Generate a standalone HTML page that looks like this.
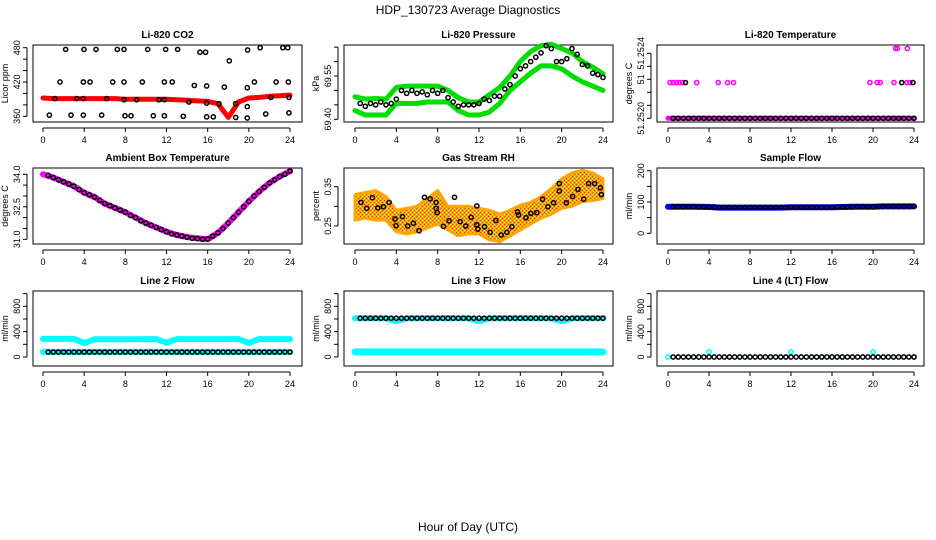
<!DOCTYPE html>
<html><head><meta charset="utf-8">
<style>
body{margin:0;background:#fff;}
svg{display:block;font-family:"Liberation Sans",Arial,sans-serif;}
</style></head>
<body>
<svg id="chart" width="936" height="540" viewBox="0 0 936 540" xmlns="http://www.w3.org/2000/svg">
<defs>
<pattern id="rhPat" width="4" height="4" patternUnits="userSpaceOnUse">
<rect width="4" height="4" fill="#ffa500"/>
<rect x="0" y="0" width="1" height="1" fill="#ff2000"/>
<rect x="2" y="2" width="1" height="1" fill="#ff2000"/>
<rect x="2" y="0" width="1" height="1" fill="#ffff00"/>
<rect x="0" y="2" width="1" height="1" fill="#ffff00"/>
</pattern>
</defs>
<text x="468" y="14" text-anchor="middle" font-size="12">HDP_130723  Average Diagnostics</text>
<text x="468" y="531" text-anchor="middle" font-size="12">Hour of Day (UTC)</text>
</svg>
<script>
// ---------- data ----------
const H25 = [0,1,2,3,4,5,6,7,8,9,10,11,12,13,14,15,16,17,18,19,20,21,22,23,24];
const HH = [0.5,1,1.5,2,2.5,3,3.5,4,4.5,5,5.5,6,6.5,7,7.5,8,8.5,9,9.5,10,10.5,11,11.5,12,12.5,13,13.5,14,14.5,15,15.5,16,16.5,17,17.5,18,18.5,19,19.5,20,20.5,21,21.5,22,22.5,23,23.5,24];
const xTickLabels = [0,4,8,12,16,20,24];

const co2Band = [392,391,391,391,391,391,391,391,390,390,390,390,390,389,388,387,386,382,358,385,392,393,395,396,397];
const co2Hours = [2.2,3.98,5.15,7.22,7.87,10.17,11.92,13.08,15.25,15.8,18.1,19.88,21.1,23.3,23.78,
  1.65,3.92,4.57,6.77,7.87,9.65,11.79,12.56,14.7,15.9,17.62,19.85,20.54,22.65,23.84,
  1.15,3.27,3.92,6.18,7.87,9.1,11.27,11.79,14.18,15.9,17.1,18.72,19.85,22.13,23.9,
  0.62,2.72,3.92,5.7,7.97,8.55,10.72,11.79,13.63,15.9,16.55,18.72,19.85,21.64,23.9];
const co2Vals = [477,477,477,477,477,477,477,477,472,472,457,476,480,480,480,
  420,420,420,420,420,420,420,420,414,413,411,410,420,420,420,
  391,391,391,391,389,389,389,389,385,383,382,382,377,393,393,
  362,362,362,362,361,361,361,361,360,359,359,358,357,364,366];

const pressUpper = [69.478,69.47,69.472,69.47,69.51,69.515,69.515,69.515,69.515,69.5,69.475,69.46,69.46,69.485,69.51,69.55,69.6,69.635,69.655,69.66,69.645,69.63,69.6,69.58,69.558];
const pressLower = [69.43,69.415,69.415,69.415,69.455,69.455,69.455,69.46,69.46,69.46,69.43,69.415,69.415,69.425,69.455,69.5,69.53,69.56,69.585,69.585,69.575,69.55,69.53,69.515,69.5];
const pressPts = [69.455,69.445,69.455,69.45,69.46,69.45,69.455,69.47,69.5,69.49,69.5,69.49,69.495,69.485,69.5,69.49,69.5,69.475,69.46,69.445,69.45,69.45,69.45,69.455,69.47,69.465,69.48,69.48,69.505,69.52,69.55,69.575,69.585,69.6,69.615,69.63,69.655,69.645,69.6,69.6,69.61,69.645,69.625,69.59,69.585,69.56,69.555,69.545];

const tempMagH = [0.2,0.5,0.8,1.1,1.4,2.8,4.9,5.8,6.4,19.7,20.4,20.7,22.05,23.3,23.6,22.2,22.4,23.35];
const tempMagV = [51.25222,51.25222,51.25222,51.25222,51.25222,51.25222,51.25222,51.25222,51.25222,51.25222,51.25222,51.25222,51.25222,51.25222,51.25222,51.25243,51.25243,51.25243];
const tempBlkMidH = [1.7,22.8,23.9];
const tempBlkMidV = [51.25222,51.25222,51.25222];
const tempBase = [51.2520,51.2520,51.2520,51.2520,51.2520,51.2520,51.2520,51.2520,51.2520,51.2520,51.2520,51.2520,51.2520,51.2520,51.2520,51.2520,51.2520,51.2520,51.2520,51.2520,51.2520,51.2520,51.2520,51.2520,51.2520];

const ambBand = [34.0,33.85,33.65,33.45,33.15,32.95,32.65,32.45,32.25,32.0,31.75,31.55,31.35,31.2,31.1,31.05,31.0,31.3,31.75,32.25,32.75,33.2,33.6,33.9,34.15];
const ambPts = [33.95,33.85,33.75,33.65,33.55,33.45,33.3,33.15,33.05,32.95,32.8,32.65,32.55,32.45,32.35,32.25,32.1,32.0,31.85,31.75,31.65,31.55,31.45,31.35,31.25,31.2,31.15,31.1,31.05,31.03,31.0,31.02,31.15,31.3,31.5,31.75,32.0,32.25,32.5,32.75,33.0,33.2,33.4,33.6,33.75,33.9,34.0,34.15];

const rhUpper = [0.33,0.335,0.34,0.325,0.29,0.295,0.3,0.32,0.34,0.3,0.3,0.3,0.295,0.29,0.28,0.29,0.303,0.31,0.325,0.345,0.37,0.385,0.392,0.385,0.37];
const rhLower = [0.265,0.27,0.265,0.265,0.235,0.23,0.235,0.245,0.255,0.24,0.225,0.23,0.23,0.215,0.21,0.225,0.24,0.255,0.27,0.28,0.295,0.3,0.312,0.315,0.32];
const rhPtH = [0.58,1.13,1.68,2.2,2.75,3.3,3.88,3.97,4.59,5.1,5.65,6.2,6.72,7.27,7.85,7.85,7.95,8.56,9.11,9.63,10.17,10.72,11.24,11.79,11.79,11.89,12.53,13.08,13.63,14.15,14.7,15.18,15.73,15.83,16.54,17.02,17.6,18.15,18.67,19.22,19.77,19.77,20.45,21.06,21.58,22.13,22.61,23.19,23.74,23.84];
const rhPtV = [0.31,0.295,0.322,0.296,0.299,0.31,0.268,0.251,0.274,0.25,0.257,0.238,0.323,0.319,0.31,0.295,0.284,0.249,0.263,0.323,0.261,0.25,0.272,0.301,0.253,0.242,0.248,0.234,0.264,0.227,0.234,0.248,0.286,0.278,0.271,0.282,0.284,0.318,0.299,0.309,0.339,0.358,0.309,0.325,0.343,0.318,0.358,0.358,0.347,0.33];

const sampleBand = [85,85,85,85,84,82,82,82,82,82,82,82,83,83,83,83,83,84,85,85,85,86,86,86,86];
const samplePts = [85,85,85,85,85,84,84,84,84,83,83,83,83,83,83,83,83,83,83,83,83,83,83,83,83,83,83,83,83,83,83,83,84,84,84,84,85,85,85,85,86,86,86,86,86,86,86,86];

const line2Upper = [285,285,285,285,220,280,280,280,280,280,282,282,225,282,282,282,282,282,282,282,222,282,282,282,282];
const line2Lower = [80,80,80,80,80,80,80,80,80,80,80,80,80,80,80,80,80,80,80,80,80,80,80,80,80];
const line2Pts = [78,78,78,78,78,78,78,78,78,78,78,78,78,78,78,78,78,78,78,78,78,78,78,78,78,78,78,78,78,78,78,78,78,78,78,78,78,78,78,78,78,78,78,78,78,78,78,78];

const line3Upper = [612,612,612,612,565,612,612,612,612,612,612,612,565,612,612,612,612,612,612,612,565,612,612,612,612];
const line3Lower = [80,80,80,80,80,80,80,80,80,80,80,80,80,80,80,80,80,80,80,80,80,80,80,80,80];
const line3Pts = [612,612,612,612,612,612,612,612,612,612,612,612,612,612,612,612,612,612,612,612,612,612,612,612,612,612,612,612,612,612,612,612,612,612,612,612,612,612,612,612,612,612,612,612,612,612,612,612];

const line4Cyan = [0,0,0,0,80,0,0,0,0,0,0,0,80,0,0,0,0,0,0,0,80,0,0,0,0];
const line4Pts = [0,0,0,0,0,0,0,0,0,0,0,0,0,0,0,0,0,0,0,0,0,0,0,0,0,0,0,0,0,0,0,0,0,0,0,0,0,0,0,0,0,0,0,0,0,0,0,0];

// ---------- layout ----------
const NS = 'http://www.w3.org/2000/svg';
const svg = document.getElementById('chart');
const cols = [{l:33,r:302,x0:43,x24:290},{l:344,r:613,x0:355,x24:603},{l:657,r:924,x0:668,x24:914}];
const rows = [{t:45,b:122},{t:168,b:244},{t:291,b:366}];

function mk(tag, attrs, name, parent){
  const el = document.createElementNS(NS, tag);
  for (const k in attrs) el.setAttribute(k, attrs[k]);
  
  
  (parent||svg).appendChild(el);
  return el;
}

function panel(p){
  const c = cols[p.col], r = rows[p.row];
  const g = mk('g', {}, p.name + '-panel');
  const xs = h => c.x0 + h*(c.x24-c.x0)/24;
  const ys = v => p.yA + (v - p.vA)*(p.yB - p.yA)/(p.vB - p.vA);
  mk('text', {x:(c.l+c.r)/2, y:r.t-7, 'text-anchor':'middle', 'font-size':10, 'font-weight':'bold'}, p.name + '-title', g).textContent = p.title;
  mk('rect', {x:c.l, y:r.t, width:c.r-c.l, height:r.b-r.t, fill:'none', stroke:'#000', 'stroke-width':1}, p.name + '-plot-box', g);
  const xa = mk('g', {}, p.name + '-x-axis', g);
  mk('line', {x1:xs(0), x2:xs(24), y1:r.b+6, y2:r.b+6, stroke:'#000'}, p.name + '-x-axis-line', xa);
  xTickLabels.forEach(t => {
    mk('line', {x1:xs(t), x2:xs(t), y1:r.b+6, y2:r.b+10, stroke:'#000'}, p.name + '-x-tick', xa);
    mk('text', {x:xs(t), y:r.b+21, 'text-anchor':'middle', 'font-size':9}, p.name + '-x-tick-label', xa).textContent = t;
  });
  const ya = mk('g', {}, p.name + '-y-axis', g);
  const y1 = ys(p.ticks[0]), y2 = ys(p.ticks[p.ticks.length-1]);
  mk('line', {x1:c.l-6, x2:c.l-6, y1:y1, y2:y2, stroke:'#000'}, p.name + '-y-axis-line', ya);
  p.ticks.forEach((t,i) => {
    const y = ys(t);
    mk('line', {x1:c.l-10, x2:c.l-6, y1:y, y2:y, stroke:'#000'}, p.name + '-y-tick', ya);
    if (p.labels[i] !== '') {
      const tx = mk('text', {x:c.l-13, y:y, 'text-anchor':'middle', 'font-size':9, transform:'rotate(-90 '+(c.l-13)+' '+y+')'}, p.name + '-y-tick-label', ya);
      tx.textContent = p.labels[i];
    }
  });
  const ym = (r.t + r.b)/2;
  mk('text', {x:c.l-25, y:ym, 'text-anchor':'middle', 'font-size':9, transform:'rotate(-90 '+(c.l-25)+' '+ym+')'}, p.name + '-y-axis-title', g).textContent = p.ylab;
  const clip = mk('g', {}, p.name + '-series', g);
  return {xs, ys, g: clip};
}

function band(P, hours, vals, color, w, name){
  const pts = hours.map((h,i) => P.xs(h).toFixed(1)+','+P.ys(vals[i]).toFixed(1)).join(' ');
  mk('polyline', {points:pts, fill:'none', stroke:color, 'stroke-width':w, 'stroke-linecap':'round', 'stroke-linejoin':'round'}, name, P.g);
}
function points(P, hours, vals, color, name, rad, sw){
  hours.forEach((h,i) => {
    mk('circle', {cx:P.xs(h), cy:P.ys(vals[i]), r:rad||2.1, fill:'none', stroke:color, 'stroke-width':sw||1.5}, name, P.g);
  });
}
function area(P, hours, up, lo, fill, name){
  const a = hours.map((h,i) => P.xs(h).toFixed(1)+','+P.ys(up[i]).toFixed(1));
  const b = hours.slice().reverse().map((h,j) => { const i = hours.length-1-j; return P.xs(h).toFixed(1)+','+P.ys(lo[i]).toFixed(1); });
  mk('polygon', {points:a.concat(b).join(' '), fill:fill, stroke:'#ffa500', 'stroke-width':3, 'stroke-linejoin':'round'}, name, P.g);
}

const flowTicks = [0,200,400,600,800,1000], flowLabels = ['0','','400','','800',''];

let P = panel({name:'co2', col:0, row:0, title:'Li-820 CO2', ylab:'Licor ppm', vA:360, yA:116.3, vB:480, yB:47.7,
  ticks:[360,380,400,420,440,460,480], labels:['360','','','420','','','480']});
band(P, H25, co2Band, '#ff0000', 5, 'co2-red-band');
points(P, co2Hours, co2Vals, '#000', 'co2-point');

P = panel({name:'pressure', col:1, row:0, title:'Li-820 Pressure', ylab:'kPa', vA:69.40, yA:119.3, vB:69.55, yB:76,
  ticks:[69.40,69.45,69.50,69.55,69.60,69.65], labels:['69.40','','','69.55','','']});
band(P, H25, pressUpper, '#00dd00', 5, 'pressure-upper-band');
band(P, H25, pressLower, '#00dd00', 5, 'pressure-lower-band');
points(P, HH, pressPts, '#000', 'pressure-point');

P = panel({name:'li820-temp', col:2, row:0, title:'Li-820 Temperature', ylab:'degrees C', vA:51.2520, yA:118.3, vB:51.2524, yB:53.3,
  ticks:[51.2520,51.25208,51.25216,51.25224,51.25232,51.2524], labels:['51.2520','','','51','','51.2524']});
band(P, H25, tempBase, '#ff00ff', 5, 'li820-temp-band');
points(P, HH, tempBase.concat(tempBase).slice(0,48), '#000', 'li820-temp-point');
points(P, tempMagH, tempMagV, '#ff00ff', 'li820-temp-magenta-point');
points(P, tempBlkMidH, tempBlkMidV, '#000', 'li820-temp-black-mid-point');

P = panel({name:'ambient', col:0, row:1, title:'Ambient Box Temperature', ylab:'degrees C', vA:31, yA:239.3, vB:34, yB:174.3,
  ticks:[31,31.5,32,32.5,33,33.5,34], labels:['31.0','','','32.5','','','34.0']});
band(P, H25, ambBand, '#ff00ff', 6, 'ambient-band');
points(P, HH, ambPts, '#000', 'ambient-point');

P = panel({name:'rh', col:1, row:1, title:'Gas Stream RH', ylab:'percent', vA:0.25, yA:226, vB:0.35, yB:186.7,
  ticks:[0.25,0.30,0.35], labels:['0.25','','0.35']});
area(P, H25, rhUpper, rhLower, 'url(#rhPat)', 'rh-band');
points(P, rhPtH, rhPtV, '#000', 'rh-point');

P = panel({name:'sample-flow', col:2, row:1, title:'Sample Flow', ylab:'ml/min', vA:0, yA:233.3, vB:200, yB:170.7,
  ticks:[0,50,100,150,200], labels:['0','','100','','200']});
band(P, H25, sampleBand, '#0000ff', 6, 'sample-flow-band');
points(P, HH, samplePts, '#000', 'sample-flow-point');

P = panel({name:'line2-flow', col:0, row:2, title:'Line 2 Flow', ylab:'ml/min', vA:0, yA:357, vB:800, yB:306.3, ticks:flowTicks, labels:flowLabels});
band(P, H25, line2Upper, '#00ffff', 6, 'line2-upper-band');
band(P, H25, line2Lower, '#00ffff', 6, 'line2-lower-band');
points(P, HH, line2Pts, '#000', 'line2-point');

P = panel({name:'line3-flow', col:1, row:2, title:'Line 3 Flow', ylab:'ml/min', vA:0, yA:357, vB:800, yB:306.3, ticks:flowTicks, labels:flowLabels});
band(P, H25, line3Upper, '#00ffff', 6, 'line3-upper-band');
band(P, H25, line3Lower, '#00ffff', 7, 'line3-lower-band');
points(P, HH, line3Pts, '#000', 'line3-point');

P = panel({name:'line4-flow', col:2, row:2, title:'Line 4 (LT) Flow', ylab:'ml/min', vA:0, yA:357, vB:800, yB:306.3, ticks:flowTicks, labels:flowLabels});
points(P, H25, line4Cyan, '#00ffff', 'line4-cyan-point');
points(P, HH, line4Pts, '#000', 'line4-point');
</script>
</body></html>
